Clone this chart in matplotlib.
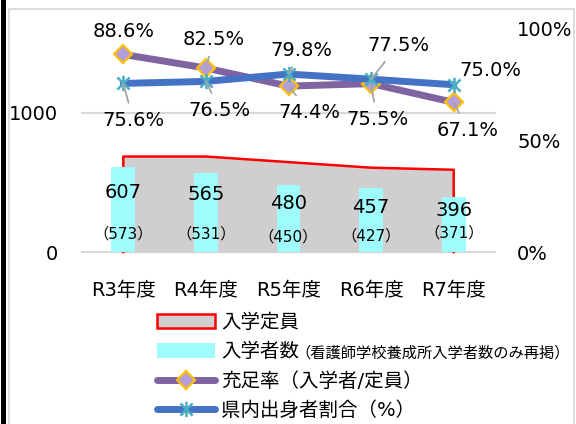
import matplotlib
matplotlib.use("Agg")
import matplotlib.pyplot as plt
from matplotlib.path import Path
from matplotlib.patches import Patch, Rectangle
from matplotlib.lines import Line2D

plt.rcParams['font.family'] = ['DejaVu Sans', 'Noto Sans CJK JP']

# ---- data ----
categories = ["R3年度", "R4年度", "R5年度", "R6年度", "R7年度"]
capacity = [685, 685, 645, 605, 590]            # 入学定員
entrants = [607, 565, 480, 457, 396]            # 入学者数
nursing_entrants = [573, 531, 450, 427, 371]    # 看護師学校養成所入学者数（再掲）
fill_rate = [88.6, 82.5, 74.4, 75.5, 67.1]      # 充足率（%）
local_ratio = [75.6, 76.5, 79.8, 77.5, 75.0]    # 県内出身者割合（%）
left_ticks = [0, 1000]
right_ticks = [0, 50, 100]

legend_labels = ["入学定員", "入学者数", "充足率（入学者/定員）", "県内出身者割合（%）"]
legend_note = "（看護師学校養成所入学者数のみ再掲）"

# ---- style ----
W, H = 576, 424
C_AREA = "#d0cece"
C_AREA_EDGE = "#ff0000"
C_BAR = "#9ffcfc"
C_PURPLE = "#8064a2"
C_BLUE = "#4472c4"
C_STAR = "#4bacc6"
C_DIAM_FACE = "#b49ddc"
C_DIAM_EDGE = "#ffc000"
C_GRID = "#d9d9d9"
C_LEADER = "#a6a6a6"
FS = 14

# label offsets in pixels (dx, dy)
purple_off = [(0, 23), (8, 29), (21, -26), (6, -36), (14, -28)]
purple_leader = [False, True, True, True, True]
blue_off = [(10, -37), (14, -29), (13, 24), (27, 34), (37, 14)]
blue_leader = [True, True, True, True, False]
bar_lab_off = [-25, -21, -18, -19, -14]
paren_lab_off = [18, 18, 15, 16, 19]

fig = plt.figure(figsize=(W / 100, H / 100), dpi=100)
fig.patch.set_facecolor("white")

# decorative frame
fig.add_artist(Rectangle((1 / W, 0), 5 / W, 1, transform=fig.transFigure,
                         facecolor="black", edgecolor="none"))
fig.add_artist(Line2D([8.5 / W, 8.5 / W, 574 / W, 574 / W],
                      [0, 1 - 8.5 / H, 1 - 8.5 / H, 0],
                      transform=fig.transFigure, color=C_GRID, lw=1.3))

L, R, T, B = 82, 495, 29, 252
ax = fig.add_axes([L / W, 1 - B / H, (R - L) / W, (B - T) / H])
ax.set_xlim(-0.5, 4.5)
ax.set_ylim(0, 1600)
x = list(range(len(categories)))

for s in ax.spines.values():
    s.set_visible(False)
ax.set_yticks(left_ticks)
ax.set_yticklabels([str(t) for t in left_ticks], fontsize=FS)
ax.set_xticks(x)
ax.set_xticklabels(categories, fontsize=FS)
ax.tick_params(axis='y', length=0, pad=17)
ax.tick_params(axis='x', length=0, pad=21)
ax.set_axisbelow(True)
ax.yaxis.grid(True, color=C_GRID, lw=1.5)
for gl in ax.get_ygridlines():
    gl.set_clip_on(False)

# area (入学定員)
ax.fill_between(x, capacity, 0, color=C_AREA, lw=0, zorder=1)
ax.plot([x[0]] + x + [x[-1]], [0] + capacity + [0], color=C_AREA_EDGE, lw=1.8,
        zorder=2, clip_on=False)

# bars (入学者数)
ax.bar(x, entrants, width=0.29, color=C_BAR, zorder=3)
for i, (v, n) in enumerate(zip(entrants, nursing_entrants)):
    ax.annotate(f"{v}", (x[i], v), xytext=(0, bar_lab_off[i]), textcoords="offset pixels",
                ha="center", va="center", fontsize=FS, zorder=5)
    ax.annotate(f"（{n}）", (x[i], 0), xytext=(0, paren_lab_off[i]), textcoords="offset pixels",
                ha="center", va="center", fontsize=11, zorder=5)

# right axis: percentages
ax2 = ax.twinx()
ax2.set_ylim(0, 100)
for s in ax2.spines.values():
    s.set_visible(False)
ax2.set_yticks(right_ticks)
ax2.set_yticklabels([f"{t}%" for t in right_ticks], fontsize=FS)
ax2.tick_params(axis='y', length=0, pad=16)

star = Path([(-1, -1), (1, 1), (-1, 1), (1, -1), (0, -1.25), (0, 1.25)],
            [Path.MOVETO, Path.LINETO, Path.MOVETO, Path.LINETO, Path.MOVETO, Path.LINETO])

ax2.plot(x, fill_rate, color=C_PURPLE, lw=5, marker="D", markersize=9,
         markerfacecolor=C_DIAM_FACE, markeredgecolor=C_DIAM_EDGE, markeredgewidth=1.6,
         solid_capstyle="round", zorder=3)
ax2.plot(x, local_ratio, color=C_BLUE, lw=5, marker=star, markersize=11,
         markeredgecolor=C_STAR, markerfacecolor="none", markeredgewidth=1.8,
         solid_capstyle="round", zorder=4)

def put_labels(vals, offs, leaders):
    for i, v in enumerate(vals):
        ap = None
        if leaders[i]:
            ap = dict(arrowstyle="-", color=C_LEADER, lw=1.3, shrinkA=4, shrinkB=0)
        ax2.annotate(f"{v:.1f}%", (x[i], v), xytext=offs[i], textcoords="offset pixels",
                     ha="center", va="center", fontsize=FS, arrowprops=ap,
                     annotation_clip=False, zorder=6)

put_labels(fill_rate, purple_off, purple_leader)
put_labels(local_ratio, blue_off, blue_leader)

# legend
handles = [
    Patch(facecolor=C_AREA, edgecolor=C_AREA_EDGE, lw=1.8),
    Patch(facecolor=C_BAR, edgecolor="none"),
    Line2D([], [], color=C_PURPLE, lw=5, marker="D", markersize=9,
           markerfacecolor=C_DIAM_FACE, markeredgecolor=C_DIAM_EDGE, markeredgewidth=1.6,
           solid_capstyle="round"),
    Line2D([], [], color=C_BLUE, lw=5, marker=star, markersize=11,
           markeredgecolor=C_STAR, markerfacecolor="none", markeredgewidth=1.8,
           solid_capstyle="round"),
]
leg = fig.legend(handles, legend_labels, loc="upper left",
                 bbox_to_anchor=(157 / W, 1 - 313 / H), frameon=False, fontsize=FS,
                 handlelength=3.0, handleheight=0.75, handletextpad=0.3,
                 labelspacing=0.53, borderpad=0, borderaxespad=0)

fig.canvas.draw()
tb = leg.get_texts()[1].get_window_extent()
fig.text(tb.x1 - 4, (tb.y0 + tb.y1) / 2 - 1, legend_note, fontsize=11, ha="left", va="center",
         transform=None)

fig.savefig("out.png", dpi=100)
